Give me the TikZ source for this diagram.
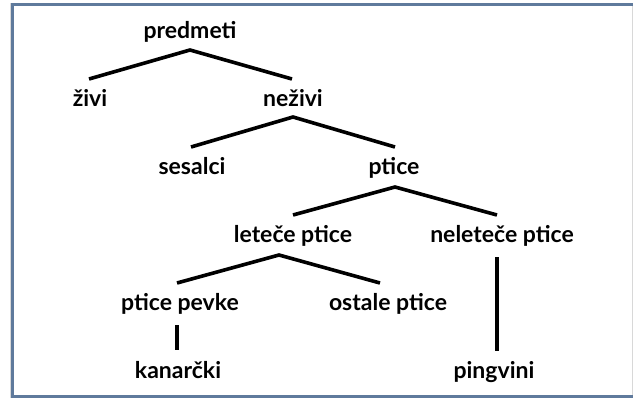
\documentclass[tikz,border=0pt]{standalone}
\usepackage{fontspec}
\setmainfont{Lato}
\definecolor{framec}{HTML}{5F7A9C}
\definecolor{lightc}{HTML}{D8D8D8}
\begin{document}
\begin{tikzpicture}[x=1pt,y=-1pt,
  lbl/.style={font=\fontsize{23}{27}\selectfont\bfseries, inner sep=0pt, text=black, text height=14pt, text depth=4pt},
  edge/.style={line width=3.6pt, black}]
\useasboundingbox (0,0) rectangle (633,399);
\fill[white] (0,0) rectangle (633,399);
\draw[lightc, line width=1pt] (632.5,4) -- (632.5,397);
\draw[lightc, line width=1pt] (10.5,3) -- (10.5,398);
\draw[framec, line width=3pt] (633,4.5) -- (12.5,4.5) -- (12.5,396.5) -- (633,396.5);

\node[lbl] (pred) at (190,33) {predmeti};
\node[lbl] (zivi) at (90,101) {živi};
\node[lbl] (nezivi) at (293,101) {neživi};
\node[lbl] (ses) at (192,169) {sesalci};
\node[lbl] (ptice) at (394,169) {ptice};
\node[lbl] (let) at (293,237) {leteče ptice};
\node[lbl] (nelet) at (502,237) {neleteče ptice};
\node[lbl] (pev) at (180,305) {ptice pevke};
\node[lbl] (ost) at (388,305) {ostale ptice};
\node[lbl] (kan) at (178,373) {kanarčki};
\node[lbl] (ping) at (494,373) {pingvini};

\coordinate (a1) at (190,50);
\coordinate (z1) at (89,79);
\coordinate (n1) at (292,79);
\draw[edge] (z1) -- (a1) -- (n1);

\coordinate (a2) at (293,117);
\coordinate (s2) at (191,147);
\coordinate (p2) at (395,147);
\draw[edge] (s2) -- (a2) -- (p2);

\coordinate (a3) at (395,187);
\coordinate (l3) at (293,215);
\coordinate (r3) at (497,215);
\draw[edge] (l3) -- (a3) -- (r3);

\coordinate (a4) at (279,255);
\coordinate (l4) at (177,283);
\coordinate (r4) at (380,283);
\draw[edge] (l4) -- (a4) -- (r4);

\coordinate (k1) at (177,325);
\coordinate (k2) at (177,350);
\draw[edge] (k1) -- (k2);

\coordinate (g1) at (497,257);
\coordinate (g2) at (497,351);
\draw[edge] (g1) -- (g2);
\end{tikzpicture}
\end{document}
